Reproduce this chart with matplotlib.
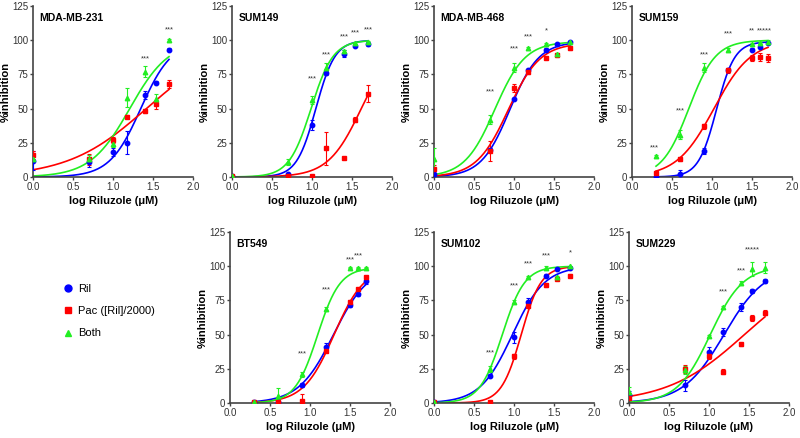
import matplotlib
matplotlib.use('Agg')
import matplotlib.pyplot as plt
from matplotlib.lines import Line2D
import numpy as np

plt.rcParams['font.family'] = ['Liberation Sans', 'DejaVu Sans']

# doses (log uM)
x_a = [0.0, 0.7, 1.0, 1.18, 1.4, 1.54, 1.7]
x_b = [0.3, 0.6, 0.9, 1.2, 1.5, 1.6, 1.7]

# means / sem (Ril, Pac, Both)
mda231_ril = [12, 11, 18, 25, 60, 69, 93]
mda231_pac = [16, 13, 27, 44, 48, 53, 68]
mda231_both = [13, 13, 24, 58, 77, 57, 100]
mda231_err = [[7, 3.5, 3, 8.5, 3, 1, 1], [3, 4, 2, 1, 1.5, 3, 3], [2, 3, 2, 7, 4, 4, 1]]

sum149_ril = [1, 2, 38, 76, 90, 96, 97]
sum149_pac = [1, 1, 1, 21, 14, 42, 61]
sum149_both = [1, 11, 56, 80, 92, 98, 99]
sum149_err = [[0.5, 0.5, 4, 1.5, 2.5, 1, 1], [0.5, 0.5, 0.5, 12, 0.5, 2, 6], [0.5, 2, 3, 3, 1, 0.5, 0.5]]

mda468_ril = [2, 20, 57, 78, 93, 97, 99]
mda468_pac = [6, 19, 65, 77, 87, 89, 94]
mda468_both = [13, 42, 80, 94, 97, 90, 99]
mda468_err = [[1, 1, 1, 1, 1, 0.5, 0.5], [3, 7, 3, 2, 1, 1, 1], [8, 3, 3, 1, 1, 1, 0.5]]

sum159_ril = [0, 2, 19, 78, 93, 95, 98]
sum159_pac = [3, 13, 37, 78, 87, 88, 87]
sum159_both = [15, 31, 80, 93, 97, 98, 99]
sum159_err = [[0.5, 3, 2, 1, 1, 1, 1], [1.5, 1.5, 2, 2, 2, 3, 3], [1, 3, 3, 1, 1, 1, 1]]

bt549_ril = [1, 1, 13, 41, 72, 80, 89]
bt549_pac = [1, 0.5, 1.5, 38, 74, 83, 92]
bt549_both = [0.5, 5, 21, 69, 99, 99, 99]
bt549_err = [[0.5, 0.5, 1.5, 3, 2, 2, 2], [0.5, 0.5, 5, 1, 1, 1, 1], [0.5, 6, 2, 1, 0.5, 0.5, 0.5]]

sum102_ril = [1, 20, 48, 74, 93, 98, 99]
sum102_pac = [1, 1, 34, 71, 86, 91, 93]
sum102_both = [0.5, 25, 74, 92, 99, 92, 100]
sum102_err = [[0.5, 1, 4, 3, 1, 1, 0.5], [0.5, 0.5, 2, 1, 1, 1, 1], [0.5, 2, 1, 1, 1, 1, 0.5]]

sum229_ril = [6, 13, 37, 52, 70, 82, 89]
sum229_pac = [4, 25, 34, 23, 43, 62, 66]
sum229_both = [8, 24, 49, 70, 88, 98, 99]
sum229_err = [[3, 4, 4, 3, 3, 1.5, 1.5], [2, 3, 2, 1.5, 1, 2, 2], [4, 3, 1, 1, 1.5, 5, 4]]

# 4PL fit parameters [bottom, top, logEC50, hill] for Ril, Pac, Both
mda231_fit = [[0, 100, 1.347, 2.23], [0, 100, 1.417, 0.884], [0, 100, 1.209, 1.76]]
sum149_fit = [[0, 100, 1.048, 3.63], [0, 100, 1.616, 2.09], [0, 100, 0.988, 3.15]]
mda468_fit = [[0, 99, 0.95, 2.41], [0, 98, 0.928, 2.19], [0, 99, 0.761, 2.3]]
sum159_fit = [[0, 99, 1.057, 3.84], [0, 100, 1.024, 1.86], [0, 100, 0.71, 2.6]]
bt549_fit = [[0, 100, 1.294, 2.0], [0, 100, 1.301, 2.28], [0, 99, 1.094, 3.1]]
sum102_fit = [[0, 100, 0.98, 2.15], [0, 100, 1.09, 3.5], [0, 100, 0.854, 3.1]]
sum229_fit = [[0, 100, 1.188, 1.691], [0, 100, 1.443, 0.899], [0, 100, 1.016, 2.12]]

# significance marks
mda231_stars = ([1.4, 1.7], [84, 105], ['***', '***'])
sum149_stars = ([1.0, 1.18, 1.4, 1.54, 1.7], [69, 87, 100, 103, 105], ['***'] * 5)
mda468_stars = ([0.7, 1.0, 1.18, 1.4], [60, 91, 100, 104], ['***', '***', '***', '*'])
sum159_stars = ([0.28, 0.6, 0.9, 1.2, 1.5, 1.66], [19, 46, 87, 102, 104, 104],
                ['***', '***', '***', '***', '**', '*****'])
bt549_stars = ([0.9, 1.2, 1.5, 1.6], [33, 80, 102, 105], ['***'] * 4)
sum102_stars = ([0.7, 1.0, 1.18, 1.4, 1.7], [34, 83, 99, 105, 107], ['***', '***', '***', '***', '*'])
sum229_stars = ([1.18, 1.4, 1.54], [79, 94, 109], ['***', '***', '*****'])

colors = ['#0000ff', '#ff0000', '#22ee22']
markers = ['o', 's', '^']
labels = ['Ril', 'Pac ([Ril]/2000)', 'Both']


def logistic(x, p):
    b, t, c, h = p
    return b + (t - b) / (1 + 10 ** ((c - x) * h))


def panel(ax, name, xs, series, errs, fits, stars):
    xx = np.linspace(xs[0], xs[-1], 200)
    for i in range(3):
        ax.errorbar(xs, series[i], yerr=errs[i], fmt=markers[i], color=colors[i],
                    ms=3.2, elinewidth=0.8, capsize=1.5, capthick=0.8, zorder=3)
        ax.plot(xx, logistic(xx, fits[i]), color=colors[i], lw=1.2, zorder=2)
    for sx, sy, st in zip(*stars):
        ax.text(sx, sy, st, ha='center', va='bottom', fontsize=5.5, color='#333333')
    ax.set_xlim(0, 2)
    ax.set_ylim(0, 125)
    ax.set_xticks([0, 0.5, 1.0, 1.5, 2.0])
    ax.set_xticklabels(['0.0', '0.5', '1.0', '1.5', '2.0'])
    ax.set_yticks([0, 25, 50, 75, 100, 125])
    ax.tick_params(labelsize=7, length=2.5, width=1, pad=0.8, color='#444444', labelcolor='#333333')
    for s in ['top', 'right']:
        ax.spines[s].set_visible(False)
    for s in ['left', 'bottom']:
        ax.spines[s].set_linewidth(1.2)
        ax.spines[s].set_color('#444444')
    ax.set_xlabel('log Riluzole (\u03bcM)', fontsize=8, fontweight='bold', labelpad=3)
    ax.set_ylabel('%inhibition', fontsize=8, fontweight='bold', labelpad=1)
    ax.text(0.04, 0.93, name, transform=ax.transAxes, fontsize=7.5, fontweight='bold',
            ha='left', va='center')


fig = plt.figure(figsize=(8, 4.38), dpi=100)
W, H = 800, 438


def rect(left, top, bottom):
    return [left / W, 1 - bottom / H, 160 / W, (bottom - top) / H]


panels = [
    ('MDA-MB-231', x_a, [mda231_ril, mda231_pac, mda231_both], mda231_err, mda231_fit, mda231_stars, rect(33, 6, 177)),
    ('SUM149', x_a, [sum149_ril, sum149_pac, sum149_both], sum149_err, sum149_fit, sum149_stars, rect(232, 6, 177)),
    ('MDA-MB-468', x_a, [mda468_ril, mda468_pac, mda468_both], mda468_err, mda468_fit, mda468_stars, rect(434, 6, 177)),
    ('SUM159', x_b, [sum159_ril, sum159_pac, sum159_both], sum159_err, sum159_fit, sum159_stars, rect(632, 6, 177)),
    ('BT549', x_b, [bt549_ril, bt549_pac, bt549_both], bt549_err, bt549_fit, bt549_stars, rect(230, 232, 403)),
    ('SUM102', x_a, [sum102_ril, sum102_pac, sum102_both], sum102_err, sum102_fit, sum102_stars, rect(434, 232, 403)),
    ('SUM229', x_a, [sum229_ril, sum229_pac, sum229_both], sum229_err, sum229_fit, sum229_stars, rect(629, 232, 403)),
]

for name, xs, ser, err, fit, st, r in panels:
    ax = fig.add_axes(r)
    panel(ax, name, xs, ser, err, fit, st)

handles = [Line2D([], [], ls='none', marker=markers[i], color=colors[i], ms=5) for i in range(3)]
fig.legend(handles, labels, loc='upper left', bbox_to_anchor=(54 / W, 1 - 274 / H), frameon=False,
           fontsize=8, labelspacing=1.1, handlelength=0.8, handletextpad=0.5)

fig.savefig('out.png', dpi=100)
